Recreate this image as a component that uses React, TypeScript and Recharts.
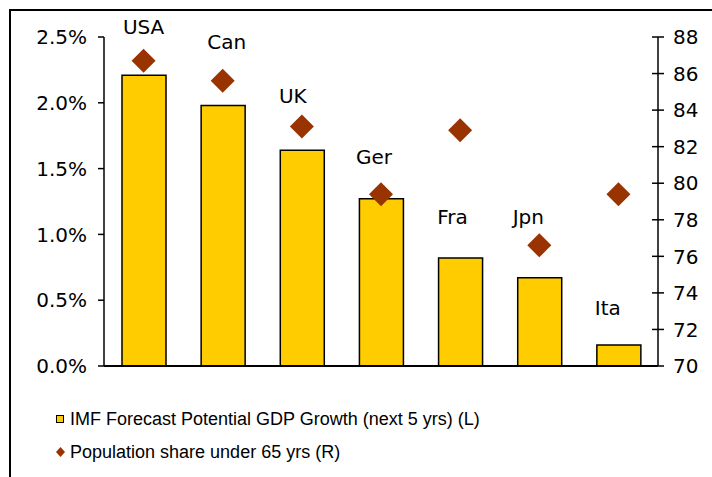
import { ComposedChart, Bar, Scatter, XAxis, YAxis, LabelList, ReferenceLine } from 'recharts';

const countries = ['USA', 'Can', 'UK', 'Ger', 'Fra', 'Jpn', 'Ita'];
const gdpGrowth = [2.21, 1.98, 1.64, 1.27, 0.82, 0.67, 0.16];
const popUnder65 = [86.7, 85.6, 83.1, 79.4, 82.9, 76.6, 79.4];
const leftTicks = [0, 0.5, 1, 1.5, 2, 2.5];
const rightTicks = [70, 72, 74, 76, 78, 80, 82, 84, 86, 88];

const data = countries.map((c, i) => ({ name: c, gdp: gdpGrowth[i], pop: popUnder65[i] }));

// label nudges (dx, dy) relative to the mark they hang off
const onBar = ['Fra', 'Ita'];
const nudge: Record<string, [number, number]> = {
    USA: [0, -29], Can: [4, -35], UK: [-9, -26], Ger: [-7, -33],
    Fra: [-8, -41], Jpn: [-11, -24], Ita: [-11, -37],
};

const font = '"DejaVu Sans", Verdana, sans-serif';
const TICK_SIZE = 6;
const TICK_MARGIN = 9;

const Diamond = (props: any) => {
    const { cx, cy } = props;
    const r = 12;
    return <polygon points={`${cx},${cy - r} ${cx + r},${cy} ${cx},${cy + r} ${cx - r},${cy}`} fill='#993300' />;
};

const RightTick = (props: any) => {
    const { x, y, payload } = props;
    const ax = x - TICK_SIZE - TICK_MARGIN;
    return (
        <g>
            <line x1={ax - 6} x2={ax} y1={y} y2={y} stroke='#000' strokeWidth={1.5} />
            <text x={x} y={y} dy='0.36em' textAnchor='start' fontSize={20} fontFamily={font} fill='#000'>{payload.value}</text>
        </g>
    );
};

const makeLabel = (wantBar: boolean) => (props: any) => {
    const { x, y, width, value, cx, cy } = props;
    if (onBar.includes(value) !== wantBar) return null;
    const [dx, dy] = nudge[value];
    const px = wantBar ? x + width / 2 : (cx ?? x + (width ?? 0) / 2);
    const py = wantBar ? y : (cy ?? y);
    return (
        <text x={px + dx} y={py + dy} dy='0.36em' textAnchor='middle' fontSize={20} fontFamily={font} fill='#000'>{value}</text>
    );
};

const LegendBox = () => (
    <div style={{ position: 'absolute', left: 0, top: 386, fontFamily: '"Liberation Sans", Arial, sans-serif', fontSize: 18, color: '#000', paddingLeft: 56, paddingTop: 21 }}>
        <div style={{ display: 'flex', alignItems: 'center', height: 24 }}>
            <span style={{ display: 'inline-block', width: 6, height: 6, background: '#FFCC00', border: '1px solid #000', marginRight: 6 }} />
            <span>IMF Forecast Potential GDP Growth (next 5 yrs) (L)</span>
        </div>
        <div style={{ display: 'flex', alignItems: 'center', height: 24, marginTop: 9 }}>
            <svg width={9} height={10} style={{ marginRight: 5 }}>
                <polygon points='4.5,0 9,5 4.5,10 0,5' fill='#993300' />
            </svg>
            <span>Population share under 65 yrs (R)</span>
        </div>
    </div>
);

export default function App() {
    return (
        <div style={{ position: 'absolute', left: 0, top: 0, width: 712, height: 477, overflow: 'hidden', background: '#fff' }}>
            <div style={{ position: 'absolute', left: 9, top: 9, width: 701, height: 520, border: '2px solid #000' }} />
            <div style={{ position: 'absolute', left: 0, top: 0 }}>
                <ComposedChart width={712} height={477} data={data} margin={{ top: 37, right: 0, bottom: 91, left: 0 }}>
                    <XAxis
                        dataKey='name'
                        height={20}
                        tick={false}
                        tickLine={false}
                        axisLine={{ stroke: '#000', strokeWidth: 2 }}
                    />
                    <YAxis
                        yAxisId='left'
                        orientation='left'
                        width={104}
                        domain={[0, 2.5]}
                        ticks={leftTicks}
                        tickFormatter={(v: number) => `${v.toFixed(1)}%`}
                        tick={{ fontSize: 20, fontFamily: font, fill: '#000' }}
                        tickSize={6}
                        tickMargin={11}
                        axisLine={{ stroke: '#000', strokeWidth: 1.5 }}
                        tickLine={{ stroke: '#000', strokeWidth: 1.5 }}
                    />
                    <YAxis
                        yAxisId='right'
                        orientation='right'
                        width={54}
                        domain={[70, 88]}
                        ticks={rightTicks}
                        tick={<RightTick />}
                        tickSize={TICK_SIZE}
                        tickMargin={TICK_MARGIN}
                        axisLine={{ stroke: '#000', strokeWidth: 1.5 }}
                        tickLine={{ stroke: '#000', strokeWidth: 1.5 }}
                    />
                    <Bar yAxisId='left' dataKey='gdp' fill='#FFCC00' stroke='#000' strokeWidth={1.5} barSize={44} isAnimationActive={false}>
                        <LabelList dataKey='name' content={makeLabel(true)} />
                    </Bar>
                    <ReferenceLine yAxisId='left' y={0} stroke='#000' strokeWidth={2} ifOverflow='visible' />
                    <Scatter yAxisId='right' dataKey='pop' shape={<Diamond />} isAnimationActive={false}>
                        <LabelList dataKey='name' content={makeLabel(false)} />
                    </Scatter>
                </ComposedChart>
            </div>
            <LegendBox />
        </div>
    );
}
